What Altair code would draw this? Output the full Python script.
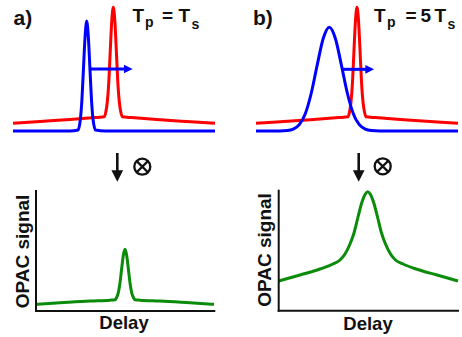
import altair as alt
import pandas as pd

# ---------------- values (diagram units: x right, y down) ----------------
# panel a) top: signal (red) and pump (blue) pulses, Tp = Ts
red_a_x = [13, 40, 70, 95, 104.3, 105.8, 107.3, 108.8, 110.3, 111.8, 113.3, 114.8, 116.3, 117.8,
           119.3, 120.8, 122.3, 131.6, 156.6, 186.6, 215]
red_a_y = [123.3, 121.5, 119.5, 117.6, 116.8, 112, 102, 82, 50, 20.4, 7.3, 20.4, 50, 82,
           102, 112, 116.8, 117.6, 119.5, 121.5, 123.3]
blue_a_x = [13, 70, 78, 80.4, 81.9, 83.4, 85, 86.7, 88.4, 90, 91.5, 93, 95.5, 105, 215]
blue_a_y = [131, 131, 130, 119, 100, 70, 38, 21, 38, 70, 100, 119, 130, 131, 131]

# panel b) top: Tp = 5 Ts
red_b_x = [256, 283.7, 313.7, 338.7, 348, 349.5, 351, 352.5, 354, 355.5, 357, 358.5, 360, 361.5,
           363, 364.5, 366, 375.3, 400.3, 430.3, 458]
red_b_y = [123.3, 121.5, 119.5, 117.6, 116.8, 112, 102, 82, 50, 20.4, 7.3, 20.4, 50, 82,
           102, 112, 116.8, 117.6, 119.5, 121.5, 123.3]
blue_b_x = [256, 280, 287.3, 293.3, 299.3, 305.3, 311.3, 317.3, 323.3, 329.3, 335.3, 341.3,
            347.3, 353.3, 359.3, 365.3, 371.3, 380, 458]
blue_b_y = [131, 131, 130.6, 129.1, 124.7, 113.7, 93, 64.6, 38.3, 27.3, 38.3, 64.6,
            93, 113.7, 124.7, 129.1, 130.6, 131, 131]

# bottom: OPAC signal vs delay
green_a_x = [36, 60, 90, 110, 115, 116.5, 118.2, 119.9, 121.6, 123.3, 125, 126.7, 128.4, 130.1,
             131.8, 133.5, 135, 140, 160, 190, 214]
green_a_y = [304.3, 302.8, 301, 300.2, 299.7, 297.8, 293.2, 283.5, 269.2, 255.4, 249.3, 255.4,
             269.2, 283.5, 293.2, 297.8, 299.7, 300.2, 301, 302.8, 304.3]
green_b_x = [278.7, 300, 320, 333, 340, 345, 350, 354, 358, 362, 365, 367.7, 370.5, 373.5, 377.5,
             381.5, 385.5, 390.5, 395.5, 403, 416, 437, 458]
green_b_y = [281, 275, 269, 264, 260, 254, 244, 233, 217, 202, 194.5, 191.7, 194.5, 202, 217,
             233, 244, 254, 260, 264, 269, 275, 281]

# L-shaped axes of the two bottom plots
axis_x1 = [36, 36, 278.7, 278.7]
axis_y1 = [191, 311, 190.7, 310.7]
axis_x2 = [36, 214.3, 278.7, 458]
axis_y2 = [311, 311, 310.7, 310.7]

# delay arrows (blue) and convolution arrows (black)
blue_shaft_x1 = [90, 341.7]
blue_shaft_x2 = [125, 366]
blue_shaft_y = [69, 69.3]
blue_head_x = [128.3, 369.7]
black_shaft_x = [117.3, 358.7]
black_shaft_y1 = [153, 153]
black_shaft_y2 = [171, 171]
black_head_y = [176, 176]
otimes_x = [142.3, 382.7]
otimes_y = [166.7, 166.3]

# texts
panel_text = ["a)", "b)"]
panel_x = [13.5, 253]
panel_y = [25, 25]
big_text = ["T", "=", "T", "T", "=", "5", "T"]
big_x = [132.5, 162, 178.5, 374, 405.5, 420.5, 434.5]
big_y = [21.7, 21.7, 21.7, 21.7, 21.7, 21.7, 21.7]
sub_text = ["p", "s", "p", "s"]
sub_x = [145, 191.5, 387, 447.5]
sub_y = [26.5, 29, 26.5, 29]
ylabel_x = [22.5, 265]
ylabel_y = [251.5, 250]
xlabel_x = [124, 368]
xlabel_y = [328.5, 329.5]

RED, BLUE, GREEN, INK = "#ff0000", "#0000ff", "#0a8c0a", "#111111"
FONT = "Liberation Sans"

X = alt.Scale(domain=[0, 462], nice=False, zero=False)
Y = alt.Scale(domain=[0, 337], nice=False, zero=False, reverse=True)


def xy(xf="x", yf="y"):
    return dict(x=alt.X(f"{xf}:Q", scale=X, axis=None), y=alt.Y(f"{yf}:Q", scale=Y, axis=None))


def curve(xs, ys, color):
    df = pd.DataFrame({"x": xs, "y": ys, "i": list(range(len(xs)))})
    return alt.Chart(df).mark_line(color=color, strokeWidth=3, interpolate="monotone",
                                   strokeJoin="round").encode(order="i:Q", **xy())


def texts(labels, xs, ys, size, **kw):
    df = pd.DataFrame({"t": labels, "x": xs, "y": ys})
    return alt.Chart(df).mark_text(font=FONT, fontWeight="bold", fontSize=size, color=INK,
                                   **kw).encode(text="t:N", **xy())


layers = [
    curve(red_a_x, red_a_y, RED),
    curve(blue_a_x, blue_a_y, BLUE),
    curve(red_b_x, red_b_y, RED),
    curve(blue_b_x, blue_b_y, BLUE),
    curve(green_a_x, green_a_y, GREEN),
    curve(green_b_x, green_b_y, GREEN),
]

axes_df = pd.DataFrame({"x": axis_x1, "y": axis_y1, "x2": axis_x2, "y2": axis_y2})
layers.append(alt.Chart(axes_df).mark_rule(color=INK, strokeWidth=2, strokeCap="square").encode(
    x2="x2:Q", y2="y2:Q", **xy()))

bs = pd.DataFrame({"x": blue_shaft_x1, "x2": blue_shaft_x2, "y": blue_shaft_y, "hx": blue_head_x})
layers.append(alt.Chart(bs).mark_rule(color=BLUE, strokeWidth=3).encode(x2="x2:Q", **xy()))
layers.append(alt.Chart(bs).mark_point(shape="M-1,-1L1,0L-1,1Z", filled=True, opacity=1,
                                       color=BLUE, size=76).encode(**xy("hx", "y")))

ks = pd.DataFrame({"x": black_shaft_x, "y": black_shaft_y1, "y2": black_shaft_y2, "hy": black_head_y})
layers.append(alt.Chart(ks).mark_rule(color=INK, strokeWidth=2.6).encode(y2="y2:Q", **xy()))
layers.append(alt.Chart(ks).mark_point(shape="M-1,-1L1,-1L0,1Z", filled=True, opacity=1,
                                       color=INK, size=137).encode(**xy("x", "hy")))

ot = pd.DataFrame({"x": otimes_x, "y": otimes_y})
layers.append(alt.Chart(ot).mark_point(shape="circle", filled=False, opacity=1, color=INK,
                                       size=256, strokeWidth=2.3).encode(**xy()))
layers.append(alt.Chart(ot).mark_point(shape="M-0.7,-0.7L0.7,0.7M-0.7,0.7L0.7,-0.7", filled=False,
                                       opacity=1, color=INK, size=256, strokeWidth=2.3).encode(**xy()))

layers.append(texts(panel_text, panel_x, panel_y, 21, align="left", baseline="alphabetic"))
layers.append(texts(big_text, big_x, big_y, 19, align="left", baseline="alphabetic"))
layers.append(texts(sub_text, sub_x, sub_y, 14, align="left", baseline="alphabetic"))
layers.append(texts(["OPAC signal"] * 2, ylabel_x, ylabel_y, 19, align="center",
                    baseline="middle", angle=270))
layers.append(texts(["Delay"] * 2, xlabel_x, xlabel_y, 18.5, align="center", baseline="alphabetic"))

chart = alt.layer(*layers).properties(
    width=462, height=337, padding=0, autosize="none", background="white"
).configure_view(stroke=None)

chart.save("out.html", embed_options={"renderer": "svg", "actions": False})
